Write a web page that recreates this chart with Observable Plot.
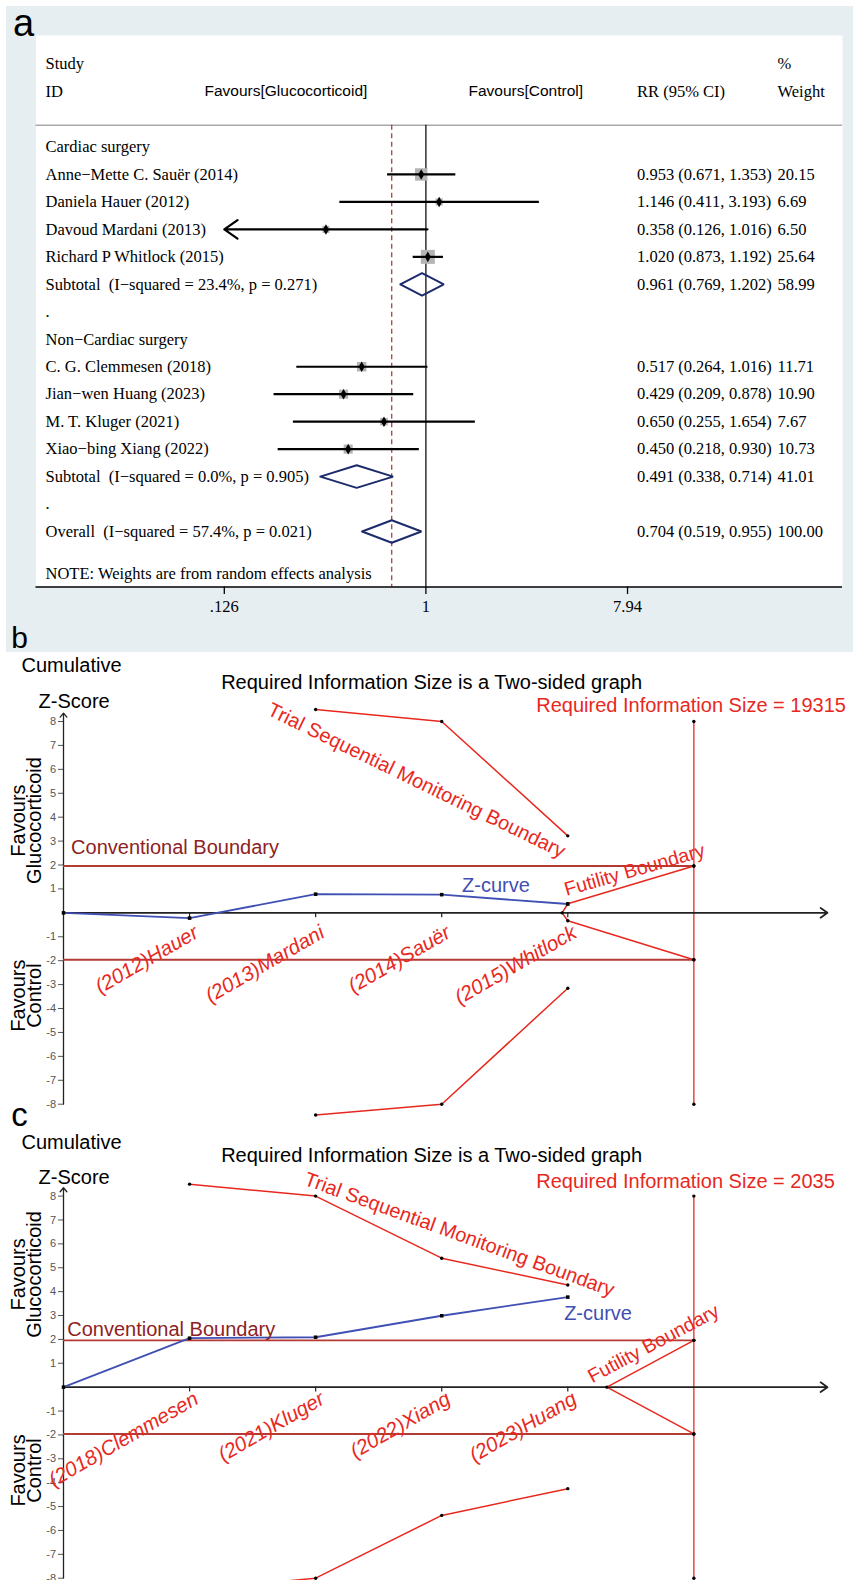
<!DOCTYPE html>
<html>
<head>
<meta charset="utf-8">
<script src="https://cdn.jsdelivr.net/npm/d3@7"></script>
<script src="https://cdn.jsdelivr.net/npm/@observablehq/plot@0.6"></script>
<style>
  html, body { margin: 0; padding: 0; background: #ffffff; }
  body { width: 853px; height: 1580px; position: relative; overflow: hidden; }
  #bg { position: absolute; left: 6px; top: 6px; width: 847px; height: 646px; background: #e7eef1; }
  .panel { position: absolute; left: 0; }
</style>
</head>
<body>
<div id="bg"></div>
<div id="panelA" class="panel" style="top:0px"></div>
<div id="panelB" class="panel" style="top:653px"></div>
<div id="panelC" class="panel" style="top:1126px"></div>
<script>
// ================= DATA: panel a (forest plot) =================
const subgroupLabels = ["Cardiac surgery", "Non\u2212Cardiac surgery"];
const subgroupRows = [0, 7];
const spacerRows = [6, 13];

const studyNames = [
  "Anne\u2212Mette C. Sau\u00ebr (2014)",
  "Daniela Hauer (2012)",
  "Davoud Mardani (2013)",
  "Richard P Whitlock (2015)",
  "C. G. Clemmesen (2018)",
  "Jian\u2212wen Huang (2023)",
  "M. T. Kluger (2021)",
  "Xiao\u2212bing Xiang (2022)"
];
const studyRows = [1, 2, 3, 4, 8, 9, 10, 11];
const studyRR = [0.953, 1.146, 0.358, 1.020, 0.517, 0.429, 0.650, 0.450];
const studyLo = [0.671, 0.411, 0.126, 0.873, 0.264, 0.209, 0.255, 0.218];
const studyHi = [1.353, 3.193, 1.016, 1.192, 1.016, 0.878, 1.654, 0.930];
const studyWeight = [20.15, 6.69, 6.50, 25.64, 11.71, 10.90, 7.67, 10.73];

const pooledNames = [
  "Subtotal  (I\u2212squared = 23.4%, p = 0.271)",
  "Subtotal  (I\u2212squared = 0.0%, p = 0.905)",
  "Overall  (I\u2212squared = 57.4%, p = 0.021)"
];
const pooledRows = [5, 12, 14];
const pooledRR = [0.961, 0.491, 0.704];
const pooledLo = [0.769, 0.338, 0.519];
const pooledHi = [1.202, 0.714, 0.955];
const pooledWeight = [58.99, 41.01, 100.00];

const noteText = "NOTE: Weights are from random effects analysis";
const forestTicks = [0.126, 1, 7.94];
const forestTickLabels = [".126", "1", "7.94"];

// ================= DATA: panels b and c (TSA) =================
const bStudyLabels = ["(2012)Hauer", "(2013)Mardani", "(2014)Sau\u00ebr", "(2015)Whitlock"];
const bZ = [0, -0.22, 0.78, 0.76, 0.37];
const bTsmbSteps = [2, 3, 4];
const bTsmbUpper = [8.5, 8.0, 3.22];
const bTsmbLower = [-8.45, -8.0, -3.15];
const bFutSteps = [3.955, 4, 5];
const bFutUpper = [0, 0.38, 1.96];
const bFutLower = [0, -0.33, -1.96];
const bRIS = 19315;

const cStudyLabels = ["(2018)Clemmesen", "(2021)Kluger", "(2022)Xiang", "(2023)Huang"];
const cZ = [0, 2.05, 2.09, 2.99, 3.77];
const cTsmbSteps = [1, 2, 3, 4];
const cTsmbUpper = [8.5, 8.0, 5.40, 4.28];
const cTsmbLower = [-8.5, -8.0, -5.37, -4.25];
const cFutSteps = [4.31, 5];
const cFutUpper = [0, 1.96];
const cFutLower = [0, -1.96];
const cRIS = 2035;

const convBoundary = 1.96;
const risStep = 5;
const zTicks = [8, 7, 6, 5, 4, 3, 2, 1, -1, -2, -3, -4, -5, -6, -7, -8];

// ================= STYLE =================
const serif = "'Liberation Serif', 'Times New Roman', serif";
const sans = "'Liberation Sans', Arial, Helvetica, sans-serif";
const RED = "#e8281e", BLUE = "#3f4fb3";

// ================= PANEL A =================
(function () {
  const studies = studyNames.map((name, i) => ({
    name, row: studyRows[i], rr: studyRR[i], lo: studyLo[i], hi: studyHi[i], w: studyWeight[i]
  }));
  const pooled = pooledNames.map((name, i) => ({
    name, row: pooledRows[i], rr: pooledRR[i], lo: pooledLo[i], hi: pooledHi[i], w: pooledWeight[i]
  }));
  const labelRows = [
    ...subgroupLabels.map((t, i) => ({ t, row: subgroupRows[i] })),
    ...spacerRows.map(r => ({ t: ".", row: r })),
    ...studies.map(d => ({ t: d.name, row: d.row })),
    ...pooled.map(d => ({ t: d.name, row: d.row }))
  ];
  const estRows = [...studies, ...pooled].map(d => ({
    row: d.row,
    ci: `${d.rr.toFixed(3)} (${d.lo.toFixed(3)}, ${d.hi.toFixed(3)})`,
    w: d.w.toFixed(2)
  }));
  const diamondHalf = 0.41;
  const diamonds = pooled.flatMap((d, k) => [
    { x: d.lo, y: d.row, k }, { x: d.rr, y: d.row - diamondHalf, k },
    { x: d.hi, y: d.row, k }, { x: d.rr, y: d.row + diamondHalf, k },
    { x: d.lo, y: d.row, k }
  ]);
  const axisMin = forestTicks[0];
  const ticks = forestTicks.map((t, i) => ({ t, label: forestTickLabels[i] }));

  const rowTop = -4.06, rowBottom = 16.02, sepRow = -0.79, noteRow = 15.54;
  const headRow1 = -3.04, headRow2 = -2.03;
  const colLabel = 9.5, colCI = 601, colW = 741.5;
  const F = 16.5;

  const head = (t, row, dx, font, size) =>
    Plot.text([t], { frameAnchor: "left", y: row, dx, text: d => d, textAnchor: "start",
      fontFamily: font, fontSize: size });

  const chart = Plot.plot({
    width: 853, height: 653,
    marginLeft: 35.5, marginRight: 11, marginTop: 35, marginBottom: 66.5,
    x: { type: "log", domain: [0.0182, 72.3], axis: null },
    y: { domain: [rowTop, rowBottom], reverse: true, axis: null },
    r: { domain: [0, d3.max(studyWeight)], range: [0, 7.9] },
    style: { fontFamily: serif, fontSize: "16.5px", background: "transparent", color: "#000" },
    marks: [
      Plot.frame({ fill: "white", stroke: "none" }),
      Plot.ruleY([sepRow], { stroke: "#a8a8a8", strokeWidth: 1.5 }),
      Plot.ruleX([1], { y1: sepRow, y2: rowBottom, stroke: "#111", strokeWidth: 1.3 }),
      Plot.ruleX([pooled[2].rr], { y1: sepRow, y2: rowBottom, stroke: "#a8302c", strokeWidth: 1.2, strokeDasharray: "5,3.5" }),
      Plot.dot(studies, { x: "rr", y: "row", r: "w", symbol: "square", fill: "#b4b4b4" }),
      Plot.link(studies.filter(d => d.lo > axisMin), { x1: "lo", x2: "hi", y1: "row", y2: "row", stroke: "#000", strokeWidth: 2.2 }),
      Plot.arrow(studies.filter(d => d.lo <= axisMin), { x1: "hi", x2: "lo", y1: "row", y2: "row", stroke: "#000", strokeWidth: 2.2, headLength: 11, headAngle: 70 }),
      Plot.dot(studies, { x: "rr", y: "row", symbol: "diamond", r: 3.2, fill: "#000" }),
      Plot.line(diamonds, { x: "x", y: "y", z: "k", stroke: "#1c2b6b", strokeWidth: 2, strokeLinejoin: "miter" }),
      Plot.text(labelRows, { y: "row", text: "t", frameAnchor: "left", textAnchor: "start", dx: colLabel, fontSize: F }),
      Plot.text(estRows, { y: "row", text: "ci", frameAnchor: "left", textAnchor: "start", dx: colCI, fontSize: F }),
      Plot.text(estRows, { y: "row", text: "w", frameAnchor: "left", textAnchor: "start", dx: colW, fontSize: F }),
      Plot.text([noteText], { y: noteRow, text: d => d, frameAnchor: "left", textAnchor: "start", dx: colLabel, fontSize: F }),
      head("Study", headRow1, colLabel, serif, F),
      head("%", headRow1, colW, serif, F),
      head("ID", headRow2, colLabel, serif, F),
      head("Favours[Glucocorticoid]", headRow2, 168.5, sans, 15.5),
      head("Favours[Control]", headRow2, 432.5, sans, 15.5),
      head("RR (95% CI)", headRow2, colCI, serif, F),
      head("Weight", headRow2, colW, serif, F),
      Plot.ruleY([rowBottom], { stroke: "#000", strokeWidth: 1.5 }),
      Plot.ruleX(ticks, { x: "t", y1: rowBottom, y2: rowBottom + 0.275, stroke: "#000", strokeWidth: 1.3 }),
      Plot.text(ticks, { x: "t", text: "label", frameAnchor: "bottom", lineAnchor: "middle", textAnchor: "middle", dy: 20, fontSize: F }),
      Plot.text(["a"], { frameAnchor: "top-left", lineAnchor: "middle", textAnchor: "middle", dx: -12.5, dy: -12, text: d => d, fontSize: 38, fontFamily: sans }),
      Plot.text(["b"], { frameAnchor: "bottom-left", lineAnchor: "middle", textAnchor: "middle", dx: -16.5, dy: 51, text: d => d, fontSize: 30, fontFamily: sans })
    ]
  });
  document.getElementById("panelA").append(chart);
})();

// ================= PANELS B and C =================
function tsaPanel(o) {
  const xEnd = 6.06, zMax = 8, yArrow = 8.35;
  const zPts = o.z.map((z, i) => ({ x: i, z }));
  const tsmbU = o.tsmbSteps.map((s, i) => ({ x: s, z: o.tsmbUpper[i] }));
  const tsmbL = o.tsmbSteps.map((s, i) => ({ x: s, z: o.tsmbLower[i] }));
  const futU = o.futSteps.map((s, i) => ({ x: s, z: o.futUpper[i] }));
  const futL = o.futSteps.map((s, i) => ({ x: s, z: o.futLower[i] }));
  const risPts = [zMax, convBoundary, -convBoundary, -zMax].map(z => ({ x: risStep, z }));
  const vertices = [...tsmbU, ...tsmbL, ...futU.slice(1), ...futL.slice(1), ...risPts, futU[0]];
  const a = o.ann;
  const ann = (t, p, opts) => Plot.text([t], { x: p[0], y: p[1], text: d => d, fontSize: 20, lineAnchor: "middle", ...opts });

  return Plot.plot({
    width: 853, height: o.height,
    marginLeft: 63, marginRight: 26, marginTop: o.marginTop, marginBottom: o.marginBottom,
    x: { domain: [0, xEnd], axis: null },
    y: { domain: [-zMax, zMax], axis: null },
    style: { fontFamily: sans, background: "transparent", color: "#000", overflow: "visible" },
    marks: [
      Plot.axisY({ ticks: zTicks, tickFormat: d => String(d), tickSize: 5, tickPadding: 2.5,
        fontSize: 11, color: "#555", fontFamily: sans, label: null }),
      Plot.arrow([0], { x1: 0, x2: 0, y1: -zMax, y2: yArrow, stroke: "#222", strokeWidth: 1.3, headLength: 6, headAngle: 80 }),
      Plot.ruleY([convBoundary, -convBoundary], { x1: 0, x2: risStep, stroke: "#b33a35", strokeWidth: 1.9 }),
      Plot.ruleX([risStep], { y1: -zMax, y2: zMax, stroke: RED, strokeWidth: 1.3 }),
      Plot.arrow([0], { x1: 0, x2: xEnd, y1: 0, y2: 0, stroke: "#222", strokeWidth: 1.8, headLength: 7, headAngle: 70 }),
      Plot.ruleX([1, 2, 3, 4], { y1: 0, y2: -0.2, stroke: "#222", strokeWidth: 1.2 }),
      Plot.line(tsmbU, { x: "x", y: "z", stroke: RED, strokeWidth: 1.5 }),
      Plot.line(tsmbL, { x: "x", y: "z", stroke: RED, strokeWidth: 1.5 }),
      Plot.line(futU, { x: "x", y: "z", stroke: RED, strokeWidth: 1.5 }),
      Plot.line(futL, { x: "x", y: "z", stroke: RED, strokeWidth: 1.5 }),
      Plot.line(zPts, { x: "x", y: "z", stroke: BLUE, strokeWidth: 1.8 }),
      Plot.dot(vertices, { x: "x", y: "z", r: 1.7, fill: "#000" }),
      Plot.dot(zPts, { x: "x", y: "z", r: 2, symbol: "square", fill: "#000" }),
      Plot.text(o.studyLabels, { x: (d, i) => i + 1, y: 0, text: d => d, rotate: -30, textAnchor: "end",
        lineAnchor: "middle", fill: RED, fontSize: 20.5, fontStyle: "italic", dx: 7, dy: o.labelDy }),
      ann("Cumulative", a.cumulative, { textAnchor: "start" }),
      ann("Required Information Size is a Two-sided graph", a.title, { textAnchor: "middle" }),
      ann("Z-Score", a.zscore, { textAnchor: "start" }),
      ann(`Required Information Size = ${o.ris}`, a.ris, { textAnchor: "start", fill: RED }),
      ann("Trial Sequential Monitoring Boundary", a.tsmb, { textAnchor: "middle", fill: RED, rotate: a.tsmbRot }),
      ann("Conventional Boundary", a.conv, { textAnchor: "start", fill: "#8e2222" }),
      ann("Z-curve", a.zcurve, { textAnchor: "middle", fill: BLUE }),
      ann("Futility Boundary", a.fut, { textAnchor: "middle", fill: RED, rotate: a.futRot, fontSize: 19.5 }),
      ann("Favours\nGlucocorticoid", a.favG, { textAnchor: "middle", rotate: -90, lineHeight: 0.8 }),
      ann("Favours\nControl", a.favC, { textAnchor: "middle", rotate: -90, lineHeight: 0.8 }),
      ...(o.extra || [])
    ]
  });
}

document.getElementById("panelB").append(tsaPanel({
  height: 473, marginTop: 68, marginBottom: 22.3,
  z: bZ, tsmbSteps: bTsmbSteps, tsmbUpper: bTsmbUpper, tsmbLower: bTsmbLower,
  futSteps: bFutSteps, futUpper: bFutUpper, futLower: bFutLower,
  ris: bRIS, studyLabels: bStudyLabels, labelDy: 18,
  ann: {
    cumulative: [-0.333, 10.34], title: [2.92, 9.64], zscore: [-0.198, 8.85], ris: [3.75, 8.67],
    tsmb: [2.80, 5.53], tsmbRot: 26, conv: [0.06, 2.72], zcurve: [3.43, 1.15],
    fut: [4.53, 1.79], futRot: -16, favG: [-0.282, 3.86], favC: [-0.282, -3.46]
  },
  extra: [
    Plot.text(["c"], { frameAnchor: "bottom-left", lineAnchor: "middle", textAnchor: "middle", dx: -44, dy: 10.8, text: d => d, fontSize: 33, fontFamily: sans })
  ]
}));

document.getElementById("panelC").append(tsaPanel({
  height: 454, marginTop: 69.6, marginBottom: 2.3,
  z: cZ, tsmbSteps: cTsmbSteps, tsmbUpper: cTsmbUpper, tsmbLower: cTsmbLower,
  futSteps: cFutSteps, futUpper: cFutUpper, futLower: cFutLower,
  ris: cRIS, studyLabels: cStudyLabels, labelDy: 10,
  ann: {
    cumulative: [-0.333, 10.25], title: [2.92, 9.69], zscore: [-0.198, 8.79], ris: [3.75, 8.61],
    tsmb: [3.14, 6.39], tsmbRot: 20, conv: [0.03, 2.41], zcurve: [4.24, 3.07],
    fut: [4.68, 1.82], futRot: -28, favG: [-0.282, 4.72], favC: [-0.282, -3.49]
  }
}));
</script>
</body>
</html>
